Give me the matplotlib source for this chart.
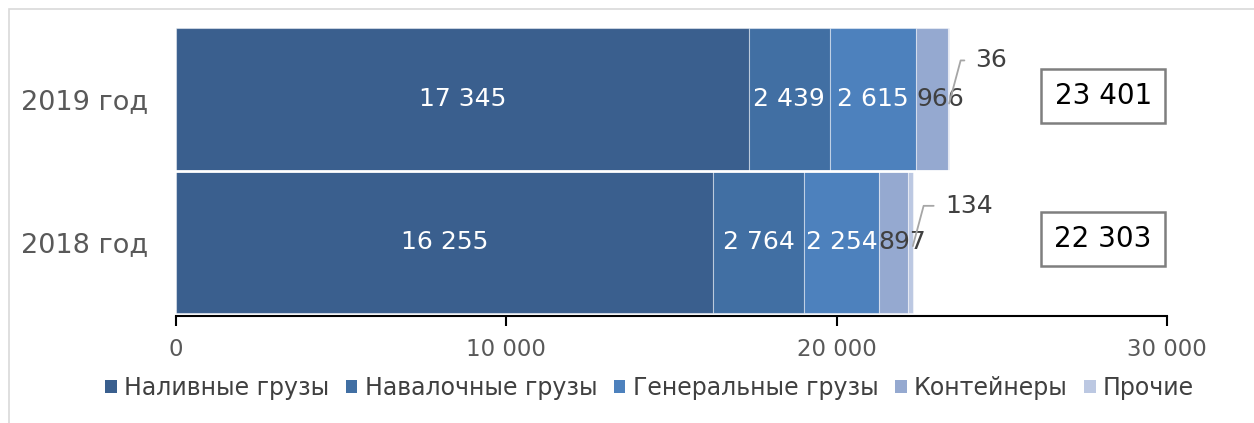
import matplotlib.pyplot as plt
from matplotlib.patches import Patch, Rectangle
from matplotlib.ticker import FuncFormatter

# ===========================
# Данные
# ===========================
years = ["2018 год", "2019 год"]
categories = ["Наливные грузы", "Навалочные грузы", "Генеральные грузы", "Контейнеры", "Прочие"]
values = {
    "Наливные грузы": [16255, 17345],
    "Навалочные грузы": [2764, 2439],
    "Генеральные грузы": [2254, 2615],
    "Контейнеры": [897, 966],
    "Прочие": [134, 36],
}
totals = [22303, 23401]

colors = ["#3A5F8E", "#416FA3", "#4D81BD", "#95A9D0", "#BCC8E2"]
label_colors = ["white", "white", "white", "#404040", "#404040"]


def fmt(v):
    return f"{v:,.0f}".replace(",", " ")


plt.rcParams["font.family"] = ["DejaVu Sans"]

fig = plt.figure(figsize=(12.54, 4.23), dpi=100)
ax = fig.add_axes([0.1404, 0.253, 0.7903, 0.681])

# рамка вокруг рисунка
fig.patches.append(Rectangle((9 / 1254, -0.05), 1.2, 1.05 - 9 / 423, transform=fig.transFigure,
                             fill=False, edgecolor="#D9D9D9", linewidth=1.2))

# --- Столбцы ---
left = [0, 0]
ypos = [0, 1]
for i, cat in enumerate(categories):
    vals = values[cat]
    ax.barh(ypos, vals, left=left, height=1.0, color=colors[i],
            edgecolor=(1, 1, 1, 0.45), linewidth=0.8)
    if cat != "Прочие":
        # подписи контейнеров чуть сдвинуты вправо, как в Excel
        dx = 6 if cat == "Контейнеры" else 0
        for y, v, l in zip(ypos, vals, left):
            ax.annotate(fmt(v), xy=(l + v / 2, y), xytext=(dx, 0), textcoords="offset points",
                        ha="center", va="center", fontsize=18, color=label_colors[i])
    left = [l + v for l, v in zip(left, vals)]

# белая полоса между годами
ax.axhline(0.5, color="white", linewidth=2)

# --- Выноски для «Прочие» ---
callout_offsets = [(23, 29), (19, 31)]
for y, v, tot, off in zip(ypos, values["Прочие"], totals, callout_offsets):
    ax.annotate(fmt(v), xy=(tot, y - 0.03), xytext=off, textcoords="offset points",
                ha="left", va="center", fontsize=18, color="#404040",
                arrowprops=dict(arrowstyle="-", color="#A6A6A6", lw=1.3,
                                shrinkA=6, shrinkB=0,
                                connectionstyle="angle,angleA=0,angleB=75,rad=0"))

# --- Итоги в рамках ---
for y, tot in zip(ypos, totals):
    ax.text(28065, y + 0.02, fmt(tot), ha="center", va="center", fontsize=20, color="black",
            bbox=dict(boxstyle="square,pad=0.47", facecolor="white",
                      edgecolor="#7F7F7F", linewidth=1.8))

# --- Оси ---
ax.set_xlim(0, 30000)
ax.set_ylim(-0.52, 1.5)
ax.set_xticks([0, 10000, 20000, 30000])
ax.xaxis.set_major_formatter(FuncFormatter(lambda x, p: fmt(x)))
ax.set_yticks(ypos)
ax.set_yticklabels(years, fontsize=19.5, color="#595959")
ax.tick_params(axis="y", length=0, pad=20)
ax.tick_params(axis="x", length=7, width=1.5, direction="out", labelsize=16.5,
               labelcolor="#595959", pad=9)
for s in ["top", "right", "left"]:
    ax.spines[s].set_visible(False)
ax.spines["bottom"].set_linewidth(1.5)

# --- Легенда ---
handles = [Patch(facecolor=c, edgecolor="none") for c in colors]
fig.legend(handles, categories, loc="center", bbox_to_anchor=(0.518, 0.083), ncol=5,
           frameon=False, fontsize=17, labelcolor="#404040",
           handlelength=0.5, handleheight=0.5, handletextpad=0.3, columnspacing=0.7)

plt.savefig("out.png", dpi=100)
